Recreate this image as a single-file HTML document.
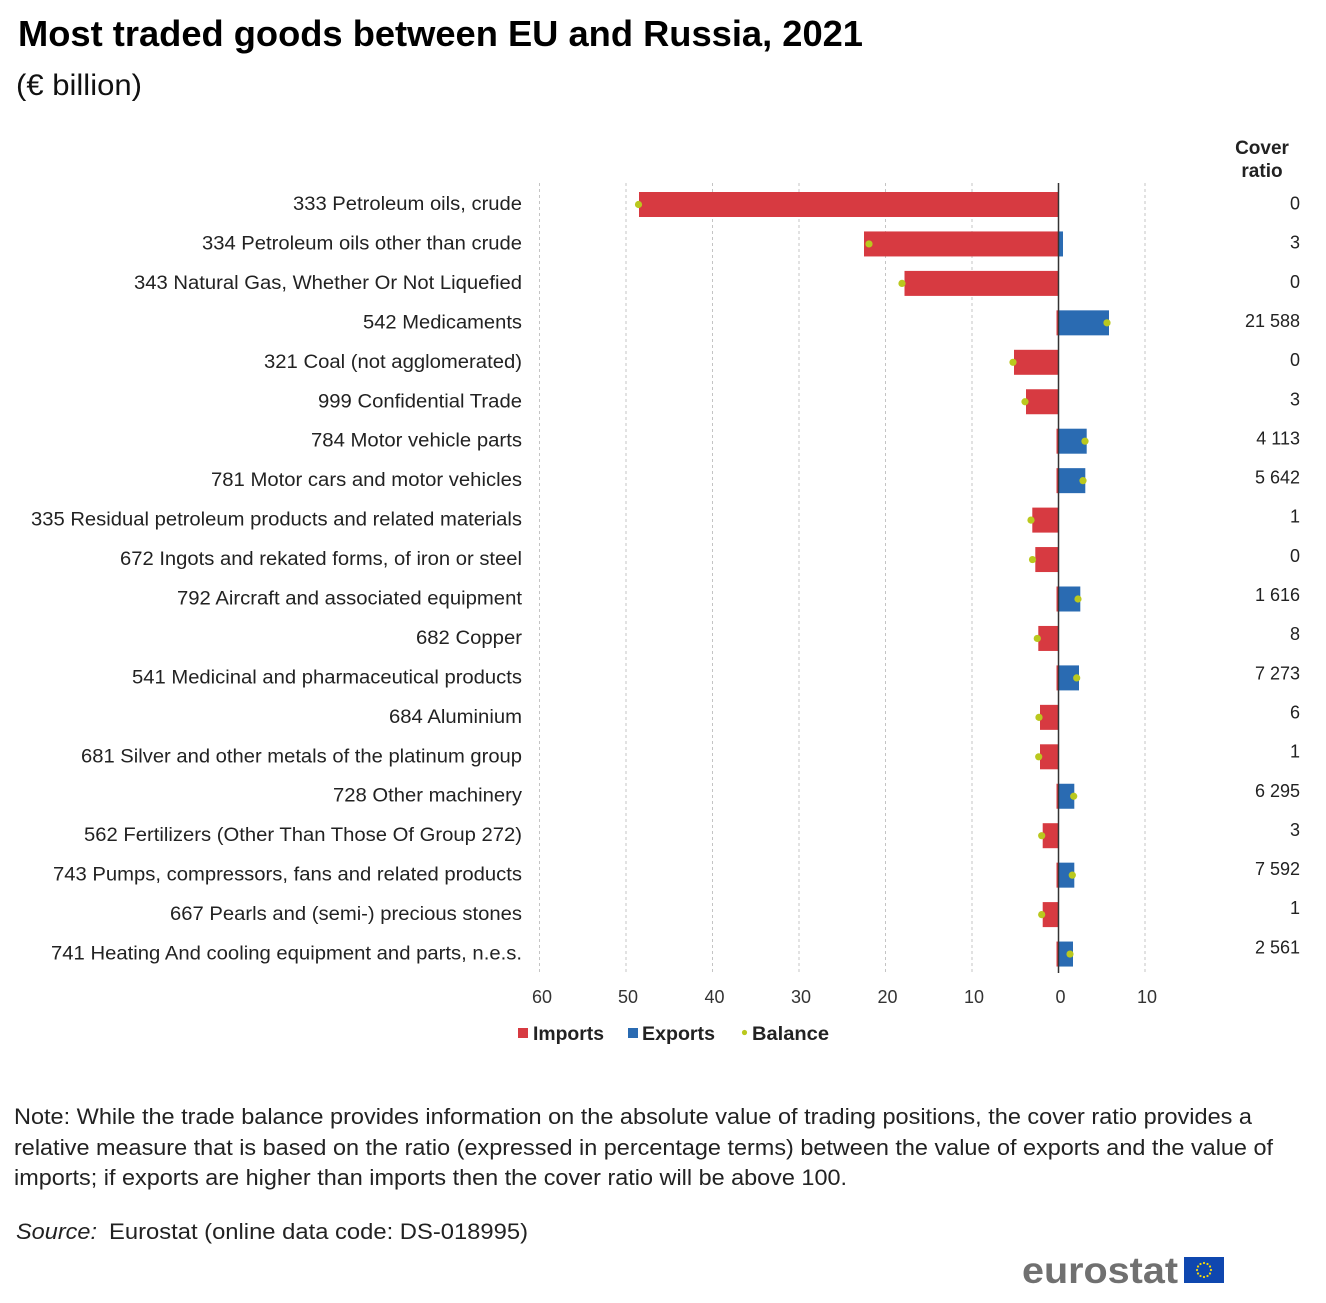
<!DOCTYPE html>
<html>
<head>
<meta charset="utf-8">
<style>
html,body{margin:0;padding:0;background:#fff;}
svg{display:block;}
text{font-family:"Liberation Sans",Arial,sans-serif;}
</style>
</head>
<body>
<svg width="1326" height="1303" viewBox="0 0 1326 1303" xmlns="http://www.w3.org/2000/svg">
<rect width="1326" height="1303" fill="#fff"/>
<!-- Title -->
<text x="18" y="46" font-size="36" font-weight="bold" fill="#000" textLength="845" lengthAdjust="spacingAndGlyphs">Most traded goods between EU and Russia, 2021</text>
<text x="16" y="95" font-size="30" fill="#111" textLength="126" lengthAdjust="spacingAndGlyphs">(€ billion)</text>

<!-- Cover ratio header -->
<text x="1262" y="154" font-size="19" font-weight="bold" fill="#222" text-anchor="middle">Cover</text>
<text x="1262" y="177" font-size="19" font-weight="bold" fill="#222" text-anchor="middle">ratio</text>

<!-- Gridlines -->
<g stroke="#c4c4c4" stroke-width="1" stroke-dasharray="3,3">
<line x1="539.5" y1="183" x2="539.5" y2="973"/>
<line x1="626" y1="183" x2="626" y2="973"/>
<line x1="712.5" y1="183" x2="712.5" y2="973"/>
<line x1="799" y1="183" x2="799" y2="973"/>
<line x1="885.5" y1="183" x2="885.5" y2="973"/>
<line x1="972" y1="183" x2="972" y2="973"/>
<line x1="1145" y1="183" x2="1145" y2="973"/>
</g>

<!-- Import bars -->
<g fill="#d73a41">
<rect x="639" y="192" width="419.5" height="25"/>
<rect x="864" y="231.45" width="194.5" height="25"/>
<rect x="904.5" y="270.9" width="154" height="25"/>
<rect x="1056.5" y="310.35" width="2" height="25"/>
<rect x="1014" y="349.8" width="44.5" height="25"/>
<rect x="1026" y="389.25" width="32.5" height="25"/>
<rect x="1056.5" y="428.7" width="2" height="25"/>
<rect x="1056.5" y="468.15" width="2" height="25"/>
<rect x="1032.3" y="507.6" width="26.2" height="25"/>
<rect x="1035.3" y="547.05" width="23.2" height="25"/>
<rect x="1056.5" y="586.5" width="2" height="25"/>
<rect x="1038.3" y="625.95" width="20.2" height="25"/>
<rect x="1056.5" y="665.4" width="2" height="25"/>
<rect x="1040" y="704.85" width="18.5" height="25"/>
<rect x="1040" y="744.3" width="18.5" height="25"/>
<rect x="1056.5" y="783.75" width="2" height="25"/>
<rect x="1042.7" y="823.2" width="15.8" height="25"/>
<rect x="1056.5" y="862.65" width="2" height="25"/>
<rect x="1042.7" y="902.1" width="15.8" height="25"/>
<rect x="1056.5" y="941.55" width="2" height="25"/>
</g>
<!-- Export bars -->
<g fill="#2a6bb2">
<rect x="1058.5" y="231.45" width="4.5" height="25"/>
<rect x="1058.5" y="310.35" width="50.5" height="25"/>
<rect x="1058.5" y="428.7" width="28.2" height="25"/>
<rect x="1058.5" y="468.15" width="26.8" height="25"/>
<rect x="1058.5" y="586.5" width="21.8" height="25"/>
<rect x="1058.5" y="665.4" width="20.5" height="25"/>
<rect x="1058.5" y="783.75" width="15.8" height="25"/>
<rect x="1058.5" y="862.65" width="15.8" height="25"/>
<rect x="1058.5" y="941.55" width="14.5" height="25"/>
</g>

<!-- Zero line -->
<line x1="1058.5" y1="183" x2="1058.5" y2="973" stroke="#333" stroke-width="1.5"/>

<!-- Balance dots -->
<g fill="#bac81e">
<circle cx="638.5" cy="204.5" r="3.6"/>
<circle cx="869" cy="243.95" r="3.6"/>
<circle cx="902" cy="283.4" r="3.6"/>
<circle cx="1107" cy="322.85" r="3.6"/>
<circle cx="1013" cy="362.3" r="3.6"/>
<circle cx="1025" cy="401.75" r="3.6"/>
<circle cx="1085" cy="441.2" r="3.6"/>
<circle cx="1083" cy="480.65" r="3.6"/>
<circle cx="1031" cy="520.1" r="3.6"/>
<circle cx="1032.5" cy="559.55" r="3.6"/>
<circle cx="1078" cy="599" r="3.6"/>
<circle cx="1037.3" cy="638.45" r="3.6"/>
<circle cx="1076.7" cy="677.9" r="3.6"/>
<circle cx="1039" cy="717.35" r="3.6"/>
<circle cx="1038.7" cy="756.8" r="3.6"/>
<circle cx="1073.7" cy="796.25" r="3.6"/>
<circle cx="1041.7" cy="835.7" r="3.6"/>
<circle cx="1072.3" cy="875.15" r="3.6"/>
<circle cx="1041.7" cy="914.6" r="3.6"/>
<circle cx="1070" cy="954.05" r="3.6"/>
</g>

<!-- Category labels -->
<g font-size="19" fill="#222" text-anchor="end">
<text x="522" y="210" textLength="229" lengthAdjust="spacingAndGlyphs">333 Petroleum oils, crude</text>
<text x="522" y="249.5" textLength="320" lengthAdjust="spacingAndGlyphs">334 Petroleum oils other than crude</text>
<text x="522" y="289" textLength="388" lengthAdjust="spacingAndGlyphs">343 Natural Gas, Whether Or Not Liquefied</text>
<text x="522" y="328.4" textLength="159" lengthAdjust="spacingAndGlyphs">542 Medicaments</text>
<text x="522" y="367.8" textLength="258" lengthAdjust="spacingAndGlyphs">321 Coal (not agglomerated)</text>
<text x="522" y="407.3" textLength="204" lengthAdjust="spacingAndGlyphs">999 Confidential Trade</text>
<text x="522" y="446.7" textLength="211" lengthAdjust="spacingAndGlyphs">784 Motor vehicle parts</text>
<text x="522" y="486.2" textLength="311" lengthAdjust="spacingAndGlyphs">781 Motor cars and motor vehicles</text>
<text x="522" y="525.6" textLength="491" lengthAdjust="spacingAndGlyphs">335 Residual petroleum products and related materials</text>
<text x="522" y="565" textLength="402" lengthAdjust="spacingAndGlyphs">672 Ingots and rekated forms, of iron or steel</text>
<text x="522" y="604.5" textLength="345" lengthAdjust="spacingAndGlyphs">792 Aircraft and associated equipment</text>
<text x="522" y="644" textLength="106" lengthAdjust="spacingAndGlyphs">682 Copper</text>
<text x="522" y="683.4" textLength="390" lengthAdjust="spacingAndGlyphs">541 Medicinal and pharmaceutical products</text>
<text x="522" y="722.8" textLength="133" lengthAdjust="spacingAndGlyphs">684 Aluminium</text>
<text x="522" y="762.3" textLength="441" lengthAdjust="spacingAndGlyphs">681 Silver and other metals of the platinum group</text>
<text x="522" y="801.7" textLength="189" lengthAdjust="spacingAndGlyphs">728 Other machinery</text>
<text x="522" y="841.2" textLength="438" lengthAdjust="spacingAndGlyphs">562 Fertilizers (Other Than Those Of Group 272)</text>
<text x="522" y="880.6" textLength="469" lengthAdjust="spacingAndGlyphs">743 Pumps, compressors, fans and related products</text>
<text x="522" y="920" textLength="352" lengthAdjust="spacingAndGlyphs">667 Pearls and (semi-) precious stones</text>
<text x="522" y="959.5" textLength="471" lengthAdjust="spacingAndGlyphs">741 Heating And cooling equipment and parts, n.e.s.</text>
</g>

<!-- Cover ratio values -->
<g font-size="18" fill="#222" text-anchor="end">
<text x="1300" y="209.5">0</text>
<text x="1300" y="248.7">3</text>
<text x="1300" y="287.8">0</text>
<text x="1300" y="327">21 588</text>
<text x="1300" y="366.1">0</text>
<text x="1300" y="405.3">3</text>
<text x="1300" y="444.4">4 113</text>
<text x="1300" y="483.6">5 642</text>
<text x="1300" y="522.7">1</text>
<text x="1300" y="561.9">0</text>
<text x="1300" y="601">1 616</text>
<text x="1300" y="640.2">8</text>
<text x="1300" y="679.3">7 273</text>
<text x="1300" y="718.5">6</text>
<text x="1300" y="757.6">1</text>
<text x="1300" y="796.8">6 295</text>
<text x="1300" y="835.9">3</text>
<text x="1300" y="875.1">7 592</text>
<text x="1300" y="914.2">1</text>
<text x="1300" y="953.4">2 561</text>
</g>

<!-- X axis tick labels -->
<g font-size="18" fill="#333" text-anchor="middle">
<text x="542" y="1003">60</text>
<text x="628" y="1003">50</text>
<text x="714.5" y="1003">40</text>
<text x="801" y="1003">30</text>
<text x="887.5" y="1003">20</text>
<text x="974" y="1003">10</text>
<text x="1060.5" y="1003">0</text>
<text x="1147" y="1003">10</text>
</g>

<!-- Legend -->
<rect x="518" y="1028" width="10" height="10" fill="#d73a41"/>
<text x="533" y="1040" font-size="19" font-weight="bold" fill="#222" textLength="71" lengthAdjust="spacingAndGlyphs">Imports</text>
<rect x="628" y="1028" width="10" height="10" fill="#2a6bb2"/>
<text x="642" y="1040" font-size="19" font-weight="bold" fill="#222" textLength="73" lengthAdjust="spacingAndGlyphs">Exports</text>
<circle cx="744.5" cy="1032.5" r="2.6" fill="#bac81e"/>
<text x="752" y="1040" font-size="19" font-weight="bold" fill="#222" textLength="77" lengthAdjust="spacingAndGlyphs">Balance</text>

<!-- Note -->
<g font-size="22" fill="#222">
<text x="14" y="1124" textLength="1238" lengthAdjust="spacingAndGlyphs">Note: While the trade balance provides information on the absolute value of trading positions, the cover ratio provides a</text>
<text x="14" y="1155" textLength="1259" lengthAdjust="spacingAndGlyphs">relative measure that is based on the ratio (expressed in percentage terms) between the value of exports and the value of</text>
<text x="14" y="1185" textLength="833" lengthAdjust="spacingAndGlyphs">imports; if exports are higher than imports then the cover ratio will be above 100.</text>
<text x="16" y="1239"><tspan font-style="italic" textLength="81" lengthAdjust="spacingAndGlyphs">Source:</tspan></text>
<text x="109" y="1239" textLength="419" lengthAdjust="spacingAndGlyphs">Eurostat (online data code: DS-018995)</text>
</g>

<!-- Eurostat logo -->
<text x="1022" y="1283" font-size="37" font-weight="bold" fill="#707070" textLength="156" lengthAdjust="spacingAndGlyphs">eurostat</text>
<rect x="1184" y="1257" width="40" height="26" fill="#0f47af"/>
<g fill="#f5d90a">
<circle cx="1204" cy="1263" r="1.1"/>
<circle cx="1207.5" cy="1264" r="1.1"/>
<circle cx="1210" cy="1266.5" r="1.1"/>
<circle cx="1211" cy="1270" r="1.1"/>
<circle cx="1210" cy="1273.5" r="1.1"/>
<circle cx="1207.5" cy="1276" r="1.1"/>
<circle cx="1204" cy="1277" r="1.1"/>
<circle cx="1200.5" cy="1276" r="1.1"/>
<circle cx="1198" cy="1273.5" r="1.1"/>
<circle cx="1197" cy="1270" r="1.1"/>
<circle cx="1198" cy="1266.5" r="1.1"/>
<circle cx="1200.5" cy="1264" r="1.1"/>
</g>
</svg>
</body>
</html>
